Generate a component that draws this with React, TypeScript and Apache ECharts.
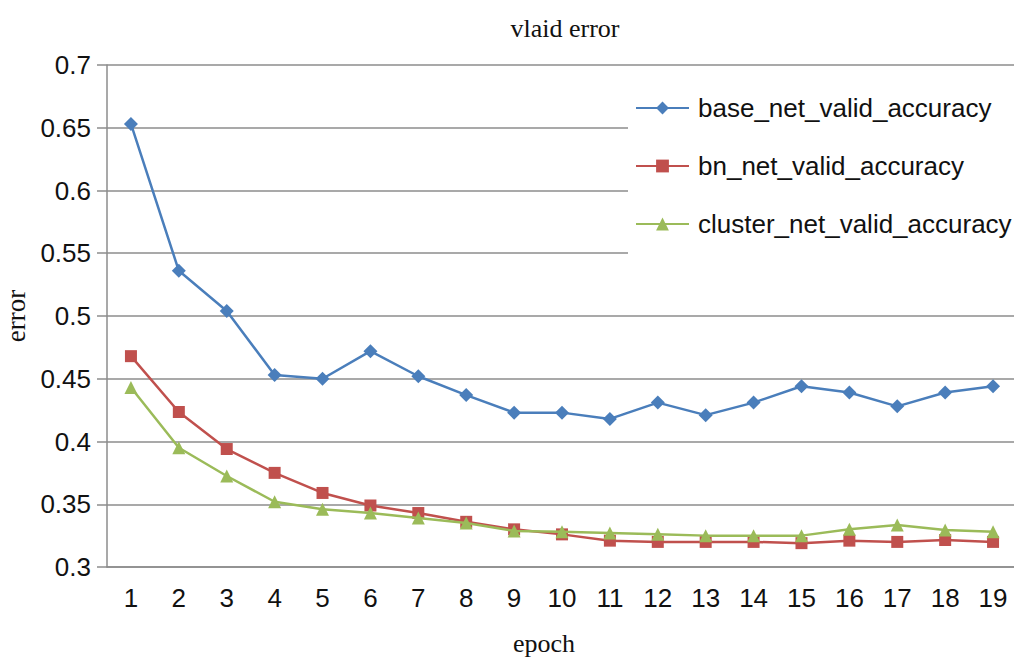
import React, { useEffect, useRef } from "react";
import * as echarts from "echarts";

const epochs = ["1","2","3","4","5","6","7","8","9","10","11","12","13","14","15","16","17","18","19"];
const baseNet = [0.653,0.536,0.504,0.453,0.450,0.472,0.452,0.437,0.423,0.423,0.418,0.431,0.421,0.431,0.444,0.439,0.428,0.439,0.444];
const bnNet = [0.468,0.4235,0.394,0.375,0.359,0.349,0.343,0.336,0.330,0.326,0.321,0.320,0.320,0.320,0.319,0.321,0.320,0.3215,0.320];
const clusterNet = [0.443,0.395,0.3725,0.352,0.346,0.343,0.339,0.335,0.3287,0.328,0.327,0.326,0.325,0.325,0.325,0.330,0.3335,0.3295,0.328];
const seriesNames = ["base_net_valid_accuracy","bn_net_valid_accuracy","cluster_net_valid_accuracy"];

export default function App() {
  const ref = useRef<HTMLDivElement>(null);
  useEffect(() => {
    if (!ref.current) return;
    const chart = echarts.init(ref.current, undefined, { renderer: "svg" });
    const sans = "Liberation Sans, Arial, sans-serif";
    const serif = "Liberation Serif, Times New Roman, serif";
    const gray = "#8c8c8c";
    chart.setOption({
      animation: false,
      backgroundColor: "#ffffff",
      title: {
        text: "vlaid error",
        left: 560,
        textAlign: "center",
        top: 10,
        textStyle: { fontFamily: serif, fontSize: 26, fontWeight: "normal", color: "#111" },
      },
      grid: { left: 107, top: 65, width: 910, height: 502, containLabel: false, outerBoundsMode: "none" },
      graphic: [
        {
          type: "rect",
          z: 2,
          shape: { x: 628, y: 70, width: 400, height: 230 },
          style: { fill: "#ffffff" },
        },
      ],
      legend: {
        orient: "vertical",
        left: 635,
        top: 95,
        padding: 0,
        itemGap: 32,
        itemWidth: 53,
        itemHeight: 16,
        z: 5,
        textStyle: { fontFamily: sans, fontSize: 26, color: "#111", padding: [0, 0, 0, 4] },
        data: seriesNames,
      },
      xAxis: {
        type: "category",
        data: epochs,
        boundaryGap: true,
        name: "epoch",
        nameLocation: "middle",
        nameGap: 63,
        nameTextStyle: { fontFamily: serif, fontSize: 26, color: "#111", padding: [0, 36, 0, 0] },
        axisLine: { lineStyle: { color: gray, width: 1.5 } },
        axisTick: { show: false },
        axisLabel: { fontFamily: sans, fontSize: 26, color: "#111", margin: 18 },
      },
      yAxis: {
        type: "value",
        min: 0.3,
        max: 0.7,
        interval: 0.05,
        name: "error",
        nameLocation: "middle",
        nameGap: 76,
        nameTextStyle: { fontFamily: serif, fontSize: 27, color: "#111" },
        axisLine: { show: true, lineStyle: { color: gray, width: 1.5 } },
        axisTick: { show: true, length: 10, inside: false, lineStyle: { color: gray, width: 1.5 } },
        axisLabel: {
          fontFamily: sans,
          fontSize: 26,
          color: "#111",
          margin: 16,
          formatter: (v: number) => String(parseFloat(v.toFixed(2))),
        },
        splitLine: { show: true, lineStyle: { color: gray, width: 1.5 } },
      },
      series: [
        {
          name: seriesNames[0],
          type: "line",
          data: baseNet,
          symbol: "diamond",
          symbolSize: 14,
          z: 3,
          itemStyle: { color: "#4a7ebb" },
          lineStyle: { color: "#4a7ebb", width: 2.5 },
        },
        {
          name: seriesNames[1],
          type: "line",
          data: bnNet,
          symbol: "rect",
          symbolSize: 12,
          z: 3,
          itemStyle: { color: "#c0504d" },
          lineStyle: { color: "#c0504d", width: 2.5 },
        },
        {
          name: seriesNames[2],
          type: "line",
          data: clusterNet,
          symbol: "triangle",
          symbolSize: 13,
          z: 4,
          itemStyle: { color: "#9bbb59" },
          lineStyle: { color: "#9bbb59", width: 2.5 },
        },
      ],
    });
    return () => chart.dispose();
  }, []);
  return (
    <div
      ref={ref}
      style={{ position: "fixed", left: 0, top: 0, width: 1014, height: 658 }}
    />
  );
}
